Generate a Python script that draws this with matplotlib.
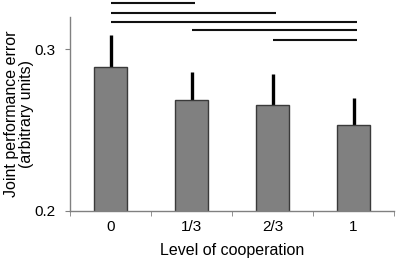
import matplotlib
matplotlib.use("Agg")
import matplotlib.pyplot as plt

categories = ["0", "1/3", "2/3", "1"]
values = [0.289, 0.2688, 0.2657, 0.2528]
err_top = [0.309, 0.2859, 0.2849, 0.2698]
sig_pairs = [(0, 1), (0, 2), (0, 3), (1, 3), (2, 3)]
sig_levels = [0.3289, 0.3227, 0.3171, 0.3118, 0.3059]

plt.rcParams['font.family'] = ['Liberation Sans', 'DejaVu Sans']

fig = plt.figure(figsize=(3.97, 2.63), dpi=100)
ax = fig.add_axes([70/397, 1-210.7/263, (394-70)/397, (210.7-17.3)/263])

x = list(range(len(categories)))
errs = [[0]*len(values), [t - v for t, v in zip(err_top, values)]]
ax.bar(x, values, width=0.41, bottom=0, color="#808080", edgecolor="#3a3a3a", linewidth=1.0, zorder=2)
ax.errorbar(x, values, yerr=errs, fmt="none", ecolor="black", elinewidth=2.4, capsize=0, zorder=1)

for (a, b), lvl in zip(sig_pairs, sig_levels):
    ax.plot([a, b + 0.04], [lvl, lvl], color="#111111", lw=1.5, clip_on=False, solid_capstyle="butt")

ax.set_ylim(0.2, 0.3198)
ax.set_xlim(-0.5, 3.5)
ax.set_yticks([0.2, 0.3])
ax.set_yticklabels(["0.2", "0.3"])
ax.set_xticks(x)
ax.set_xticklabels(categories)
ax.set_xticks([-0.5, 0.5, 1.5, 2.5, 3.5], minor=True)
ax.tick_params(axis='x', which='major', length=0, pad=7, labelsize=11)
ax.tick_params(axis='x', which='minor', length=3.5, color="#808080", direction='out')
ax.tick_params(axis='y', length=3.5, color="#808080", direction='out', labelsize=11, pad=7)

for s in ["top", "right"]:
    ax.spines[s].set_visible(False)
for s in ["left", "bottom"]:
    ax.spines[s].set_color("#808080")
    ax.spines[s].set_linewidth(1.0)

ax.set_xlabel("Level of cooperation", fontsize=11.5, labelpad=6)
ax.set_ylabel("Joint performance error\n(arbitrary units)", fontsize=11.5, linespacing=1.0)
ax.yaxis.set_label_coords((34 - 70) / 324, 0.5)

fig.savefig("out.png", dpi=100)
